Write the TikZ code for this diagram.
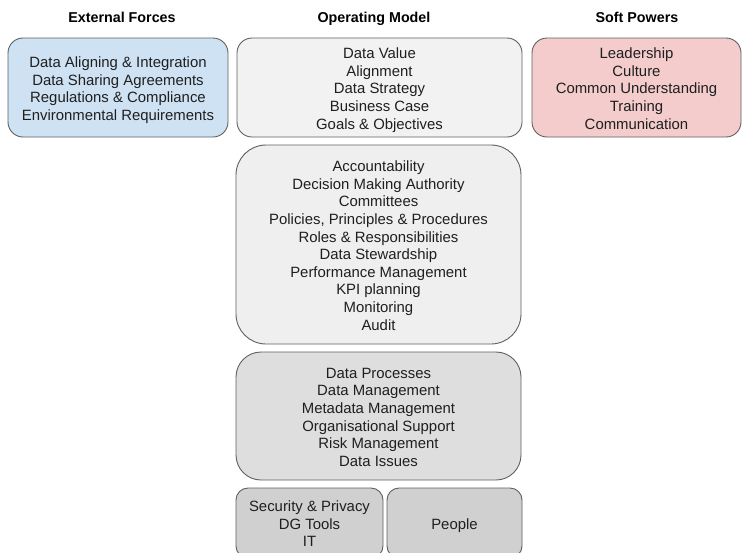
\documentclass[tikz,border=0pt]{standalone}
\usepackage{fontspec}
\setmainfont{Liberation Sans}
\definecolor{bluefill}{HTML}{CFE2F3}
\definecolor{pinkfill}{HTML}{F4CCCC}
\definecolor{greyA}{HTML}{F2F2F2}
\definecolor{greyB}{HTML}{EFEFEF}
\definecolor{greyC}{HTML}{DEDEDE}
\definecolor{greyD}{HTML}{D0D0D0}
\definecolor{edge}{HTML}{5F5F5F}
\tikzset{
  box/.style={draw=edge, line width=0.9pt, inner sep=0pt,
    font=\fontsize{14.9}{17.6}\selectfont, text=black!88},
  header/.style={font=\fontsize{14.3}{16}\selectfont\bfseries, inner sep=0pt, anchor=base}
}
\newcommand{\lines}[1]{\raisebox{-2.8pt}[\height][\depth]{\begin{tabular}{@{}c@{}}#1\end{tabular}}}
\begin{document}
\begin{tikzpicture}[x=1pt,y=-1pt]
\useasboundingbox (0,0) rectangle (742,552);
\clip (0,0) rectangle (742,552);
\node[header] (h1) at (122,22.5) {External Forces};
\node[header] (h2) at (374,22.5) {Operating Model};
\node[header] (h3) at (637,22.5) {Soft Powers};
\node[box, fill=bluefill, rounded corners=15pt, minimum width=220pt, minimum height=99pt] (ext) at (118,87.5)
 {\lines{Data Aligning \& Integration\\Data Sharing Agreements\\Regulations \& Compliance\\Environmental Requirements}};
\node[box, fill=greyA, rounded corners=15pt, minimum width=285pt, minimum height=99pt] (val) at (379.5,87.5)
 {\lines{Data Value\\Alignment\\Data Strategy\\Business Case\\Goals \& Objectives}};
\node[box, fill=pinkfill, rounded corners=15pt, minimum width=209pt, minimum height=99pt] (soft) at (636.5,87.5)
 {\lines{Leadership\\Culture\\Common Understanding\\Training\\Communication}};
\node[box, fill=greyB, rounded corners=30pt, minimum width=285pt, minimum height=199pt] (acc) at (378.5,244.5)
 {\lines{Accountability\\Decision Making Authority\\Committees\\Policies, Principles \& Procedures\\Roles \& Responsibilities\\Data Stewardship\\Performance Management\\KPI planning\\Monitoring\\Audit}};
\node[box, fill=greyC, rounded corners=25pt, minimum width=285pt, minimum height=128pt] (proc) at (378.5,416)
 {\lines{Data Processes\\Data Management\\Metadata Management\\Organisational Support\\Risk Management\\Data Issues}};
\node[box, fill=greyD, rounded corners=12pt, minimum width=147pt, minimum height=70pt] (sec) at (309.5,523)
 {\lines{Security \& Privacy\\DG Tools\\IT}};
\node[box, fill=greyD, rounded corners=12pt, minimum width=135pt, minimum height=70pt] (ppl) at (454.5,523)
 {\lines{People}};
\end{tikzpicture}
\end{document}
